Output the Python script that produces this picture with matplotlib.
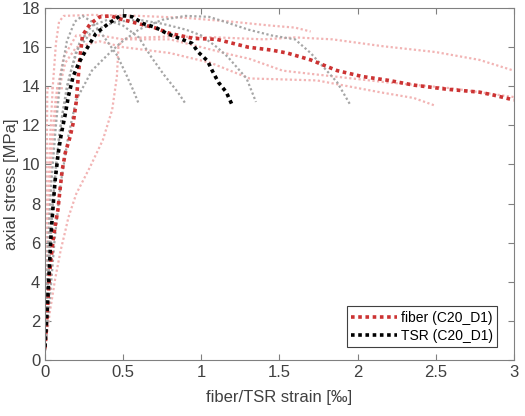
import numpy as np
import matplotlib.pyplot as plt

plt.rcParams['font.family'] = ['Liberation Sans', 'DejaVu Sans']

# main specimen C20_D1
fiber_x = [0, 0.015, 0.03, 0.05, 0.064, 0.083, 0.096, 0.11, 0.13, 0.16, 0.18, 0.2, 0.21, 0.22, 0.24,
           0.29, 0.35, 0.42, 0.5, 0.6, 0.7, 0.8, 0.95, 1.1, 1.2, 1.3, 1.45, 1.55, 1.7, 1.87, 2.03,
           2.2, 2.36, 2.57, 2.78, 2.87, 3.0]
fiber_y = [0.6, 2.5, 4.5, 6.0, 6.8, 7.7, 8.7, 9.7, 10.6, 11.4, 12.1, 13.2, 14.2, 15.2, 16.6,
           17.2, 17.55, 17.6, 17.4, 17.2, 17.0, 16.7, 16.45, 16.4, 16.2, 16.0, 15.85, 15.7, 15.35, 14.8, 14.5,
           14.3, 14.06, 13.85, 13.7, 13.55, 13.3]
tsr_x = [0, 0.01, 0.02, 0.03, 0.04, 0.055, 0.065, 0.085, 0.105, 0.128, 0.15, 0.18, 0.217, 0.262,
         0.326, 0.405, 0.48, 0.52, 0.56, 0.63, 0.71, 0.78, 0.86, 0.94, 0.98, 1.04, 1.07, 1.11, 1.16, 1.2]
tsr_y = [0.66, 2.0, 3.5, 5.0, 6.6, 8.2, 9.2, 10.6, 11.6, 12.5, 13.5, 14.5, 15.2, 15.85,
         16.7, 17.2, 17.6, 17.6, 17.55, 17.2, 17.0, 16.7, 16.45, 16.2, 15.75, 15.3, 14.8, 14.2, 13.7, 13.0]

# other specimens - fiber
f1_x = [0, 0.01, 0.02, 0.03, 0.05, 0.07, 0.09, 0.12, 0.3, 0.6, 0.9, 1.2, 1.45, 1.6, 1.7]
f1_y = [0.5, 4, 8, 11, 14, 16.2, 17.3, 17.6, 17.65, 17.6, 17.5, 17.3, 17.1, 17.0, 16.8]
f2_x = [0, 0.03, 0.064, 0.1, 0.13, 0.15, 0.2, 0.29, 0.37, 0.43, 0.46, 0.47, 0.5, 0.8, 1.1, 1.4,
        1.6, 1.84, 2.16, 2.5, 2.78, 3.0]
f2_y = [0.5, 2.4, 4.1, 5.6, 6.6, 7.3, 8.5, 9.9, 11.25, 12.8, 14.5, 16.0, 16.45, 16.55, 16.5, 16.4,
        16.5, 16.4, 16.05, 15.75, 15.35, 14.8]
f3_x = [0, 0.01, 0.025, 0.04, 0.07, 0.12, 0.2, 0.35, 0.5, 0.8, 1.2, 1.31, 1.52, 1.74, 2.19, 2.6, 3.0]
f3_y = [0.5, 4, 8, 11, 13.5, 15.5, 16.6, 16.6, 16.4, 16.4, 15.6, 15.4, 14.8, 14.6, 14.2, 13.9, 13.45]
f4_x = [0, 0.015, 0.03, 0.05, 0.08, 0.13, 0.2, 0.35, 0.5, 0.8, 1.06, 1.31, 1.74, 2.14, 2.36, 2.5]
f4_y = [0.5, 4, 8, 11, 13.5, 15.2, 16.0, 16.3, 16.0, 15.7, 15.2, 14.4, 14.3, 13.7, 13.4, 13.0]
f5_x = [0, 0.005, 0.01, 0.012, 0.015, 0.06, 0.12]
f5_y = [0.5, 4, 8, 11, 13.9, 13.9, 13.9]

# other specimens - TSR
t1_x = [0, 0.01, 0.02, 0.04, 0.07, 0.1, 0.14, 0.19, 0.24, 0.3, 0.38, 0.46, 0.52, 0.57, 0.6]
t1_y = [0.5, 3, 6, 9, 12, 14.5, 16.3, 17.3, 17.6, 17.3, 16.5, 15.6, 14.6, 13.7, 13.1]
t2_x = [0, 0.02, 0.04, 0.07, 0.11, 0.16, 0.22, 0.3, 0.4, 0.5, 0.6, 0.68, 0.76, 0.85, 0.9]
t2_y = [0.5, 4, 7, 10, 12.5, 14.6, 16.2, 17.1, 17.4, 17.1, 16.5, 15.5, 14.6, 13.7, 13.1]
t3_x = [0, 0.02, 0.05, 0.09, 0.14, 0.2, 0.3, 0.45, 0.6, 0.75, 0.9, 1.0, 1.1, 1.17, 1.29, 1.35]
t3_y = [0.5, 4, 8, 11.5, 14, 15.8, 16.8, 17.3, 17.4, 17.2, 16.9, 16.6, 16.0, 15.5, 14.4, 13.2]
t4_x = [0, 0.03, 0.06, 0.1, 0.15, 0.2, 0.3, 0.4, 0.48, 0.6, 0.75, 0.9, 1.05, 1.15, 1.3, 1.45,
        1.6, 1.7, 1.78, 1.87, 1.95]
t4_y = [0.5, 3, 6, 9, 11.5, 13.3, 14.8, 15.6, 16.2, 16.9, 17.4, 17.6, 17.55, 17.3, 16.9, 16.6,
        16.4, 15.7, 15.0, 14.2, 13.1]

fig = plt.figure(figsize=(5.25, 4.16), dpi=100)
ax = fig.add_axes([0.0857, 0.1346, 0.893, 0.846])

for xs, ys in [(f1_x, f1_y), (f2_x, f2_y), (f3_x, f3_y), (f4_x, f4_y), (f5_x, f5_y)]:
    ax.plot(xs, ys, color='#f2b4b4', lw=1.6, dashes=(1, 1.1), dash_capstyle='butt')
for xs, ys in [(t1_x, t1_y), (t2_x, t2_y), (t3_x, t3_y), (t4_x, t4_y)]:
    ax.plot(xs, ys, color='#a6a6a6', lw=1.6, dashes=(1, 1.1), dash_capstyle='butt')

ax.plot(fiber_x, fiber_y, color='#cc3333', lw=2.6, dashes=(1, 1), dash_capstyle='butt',
        label='fiber (C20_D1)')
ax.plot(tsr_x, tsr_y, color='black', lw=2.6, dashes=(1, 1), dash_capstyle='butt',
        label='TSR (C20_D1)')

ax.set_xlim(0, 3)
ax.set_ylim(0, 18)
ax.set_xticks(np.arange(0, 3.01, 0.5))
ax.set_xticklabels(['0', '0.5', '1', '1.5', '2', '2.5', '3'])
ax.set_yticks(np.arange(0, 19, 2))
ax.tick_params(direction='in', length=4, top=True, right=True, labelsize=12,
               color='#808080', labelcolor='#404040')
for s in ax.spines.values():
    s.set_color('#808080')
ax.set_xlabel('fiber/TSR strain [‰]', fontsize=12, color='#404040', labelpad=7)
ax.set_ylabel('axial stress [MPa]', fontsize=12, color='#404040', labelpad=2)

leg = ax.legend(loc='lower right', bbox_to_anchor=(0.965, 0.037), fontsize=10,
                handlelength=3.3, fancybox=False, framealpha=1, borderpad=0.3,
                labelspacing=0.3, handletextpad=0.3, borderaxespad=0)
leg.get_frame().set_edgecolor('#404040')
leg.get_frame().set_linewidth(0.8)

fig.savefig('out.png', dpi=100)
